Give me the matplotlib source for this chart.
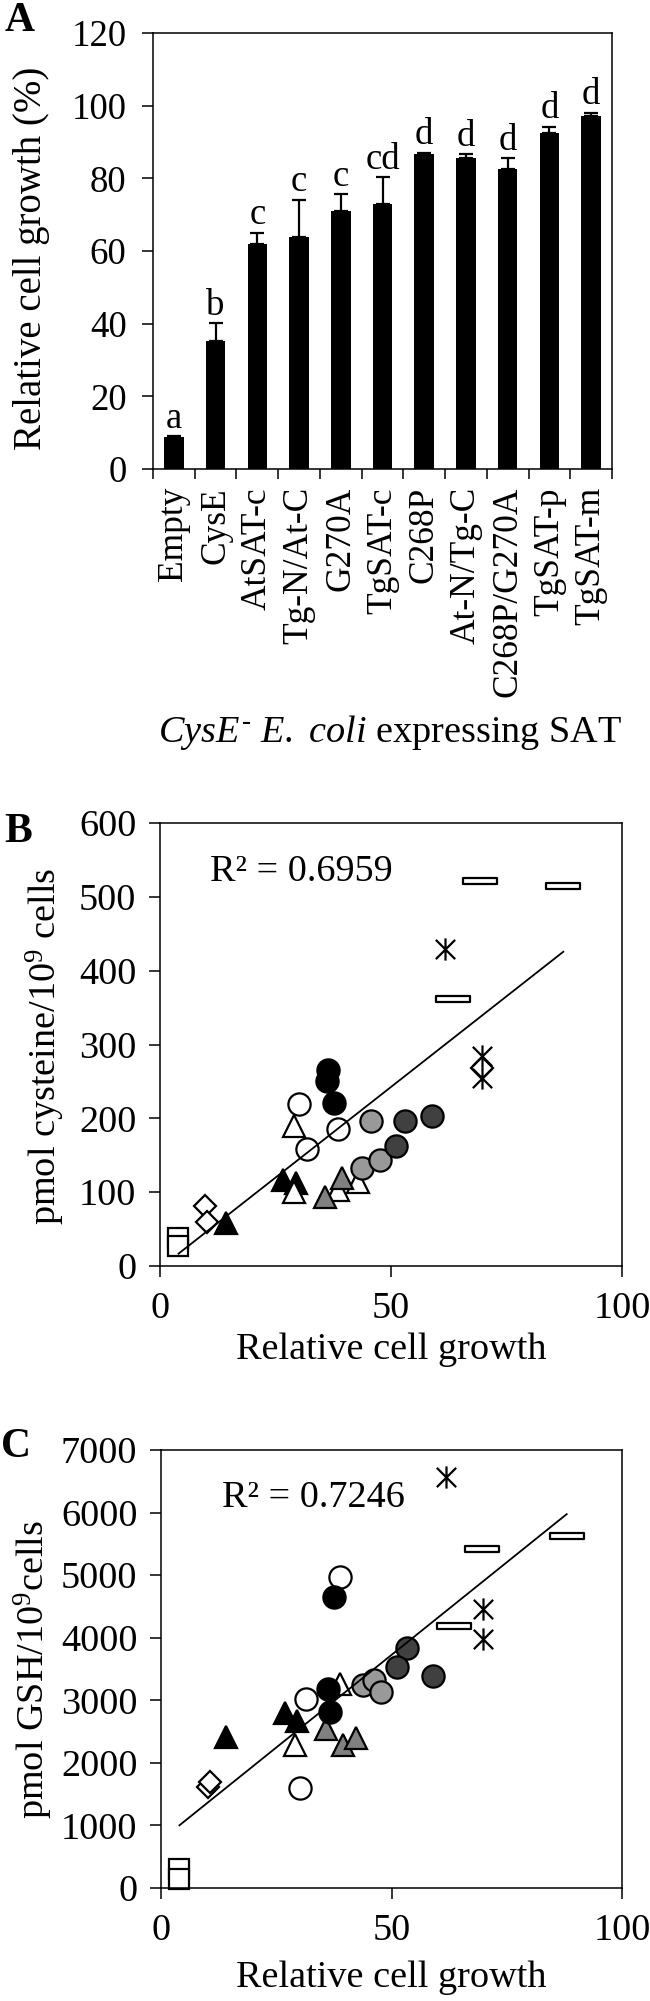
import numpy as np
import matplotlib
matplotlib.use('Agg')
import matplotlib.pyplot as plt
from matplotlib.path import Path

plt.rcParams['font.family'] = ['Liberation Serif', 'DejaVu Serif']
plt.rcParams['mathtext.fontset'] = 'custom'
plt.rcParams['mathtext.rm'] = 'Liberation Serif'
plt.rcParams['mathtext.it'] = 'Liberation Serif:italic'
plt.rcParams['axes.linewidth'] = 1.1

# --- panel A: growth of CysE- E. coli expressing SAT variants ---
strains = ['Empty', 'CysE', 'AtSAT-c', 'Tg-N/At-C', 'G270A', 'TgSAT-c',
           'C268P', 'At-N/Tg-C', 'C268P/G270A', 'TgSAT-p', 'TgSAT-m']
growth = [8.8, 35.3, 62.0, 63.8, 71.1, 72.9, 86.8, 85.7, 82.5, 92.4, 97.1]
growth_err = [0.3, 4.9, 3.0, 10.3, 4.5, 7.4, 0.3, 1.0, 3.0, 1.8, 1.0]
letters = ['a', 'b', 'c', 'c', 'c', 'cd', 'd', 'd', 'd', 'd', 'd']

# --- panel B: cysteine vs relative growth ---
b_group = ['empty', 'empty',
           'cyse', 'cyse', 'cyse',
           'blk_tri', 'blk_tri', 'blk_tri',
           'open_tri', 'open_tri', 'open_tri', 'open_tri',
           'grey_tri', 'grey_tri',
           'open_circ', 'open_circ', 'open_circ',
           'blk_circ', 'blk_circ', 'blk_circ',
           'lt_circ', 'lt_circ', 'lt_circ',
           'dk_circ', 'dk_circ', 'dk_circ',
           'star', 'star', 'star',
           'rect', 'rect', 'rect']
b_growth = [4.0, 4.0,
            9.8, 10.1, 69.7,
            14.3, 26.6, 29.4,
            28.9, 29.0, 38.6, 42.8,
            35.8, 39.4,
            30.0, 31.8, 38.5,
            36.4, 36.1, 37.6,
            45.6, 43.7, 47.6,
            53.1, 51.0, 58.8,
            61.7, 69.7, 69.7,
            69.3, 87.3, 63.4]
b_cysteine = [38, 27,
              81, 60, 268,
              58, 116, 112,
              100, 190, 103, 114,
              94, 119,
              220, 159, 185,
              265, 250, 221,
              196, 133, 144,
              196, 162, 203,
              430, 284, 254,
              521, 515, 361]
b_fit = (4.91, -3.0)   # slope, intercept of trendline
b_r2 = 'R² = 0.6959'

# --- panel C: GSH vs relative growth ---
c_group = ['empty', 'empty',
           'cyse', 'cyse',
           'blk_tri', 'blk_tri', 'blk_tri',
           'open_tri', 'open_tri',
           'grey_tri', 'grey_tri', 'grey_tri',
           'open_circ', 'open_circ', 'open_circ',
           'blk_circ', 'blk_circ', 'blk_circ',
           'lt_circ', 'lt_circ', 'lt_circ',
           'dk_circ', 'dk_circ', 'dk_circ',
           'star', 'star', 'star',
           'rect', 'rect', 'rect']
c_growth = [4.0, 4.0,
            10.3, 10.7,
            14.2, 26.9, 29.4,
            29.1, 38.8,
            35.8, 39.4, 42.4,
            30.2, 31.4, 38.8,
            37.6, 36.3, 36.6,
            43.8, 46.2, 47.8,
            53.3, 51.1, 59.0,
            61.8, 69.9, 69.8,
            69.6, 88.0, 63.6]
c_gsh = [300, 150,
         1610, 1690,
         2420, 2800, 2670,
         2280, 3265,
         2540, 2290, 2390,
         1600, 3020, 4965,
         4645, 3185, 2810,
         3240, 3320, 3130,
         3840, 3535, 3395,
         6565, 4455, 3985,
         5410, 5630, 4180]
c_fit = (59.2, 765.0)
c_r2 = 'R² = 0.7246'

group_order = ['empty', 'cyse', 'blk_tri', 'open_tri', 'grey_tri', 'open_circ',
               'blk_circ', 'lt_circ', 'dk_circ', 'star', 'rect']

star_marker = Path([(-1, -1), (1, 1), (-1, 1), (1, -1), (0, -1.15), (0, 1.15)],
                   [Path.MOVETO, Path.LINETO, Path.MOVETO, Path.LINETO, Path.MOVETO, Path.LINETO])
rect_marker = Path([(-1, -0.18), (1, -0.18), (1, 0.18), (-1, 0.18), (-1, -0.18)],
                   [Path.MOVETO, Path.LINETO, Path.LINETO, Path.LINETO, Path.CLOSEPOLY])

styles = {
    'empty': dict(marker='s', ms=15, mfc='white'),
    'cyse': dict(marker='D', ms=11, mfc='white'),
    'blk_tri': dict(marker='^', ms=16, mfc='black'),
    'open_tri': dict(marker='^', ms=16, mfc='white'),
    'grey_tri': dict(marker='^', ms=16, mfc='#808080'),
    'open_circ': dict(marker='o', ms=16, mfc='white'),
    'blk_circ': dict(marker='o', ms=16, mfc='black'),
    'lt_circ': dict(marker='o', ms=16, mfc='#999999'),
    'dk_circ': dict(marker='o', ms=16, mfc='#404040'),
    'star': dict(marker=star_marker, ms=16, mfc='none'),
    'rect': dict(marker=rect_marker, ms=24, mfc='white'),
}

W, H = 650, 2001
fig = plt.figure(figsize=(W / 100, H / 100), dpi=100)


def px_axes(left, top, right, bottom):
    return fig.add_axes([left / W, 1 - bottom / H, (right - left) / W, (bottom - top) / H])


def style_ticks(ax, size):
    ax.tick_params(axis='both', which='major', direction='out', length=8, width=1.1,
                   labelsize=size, pad=9)


# ---------- A ----------
ax = px_axes(153, 33, 612, 469)
x = np.arange(len(strains))
ax.bar(x, growth, width=0.47, color='black')
ax.errorbar(x, growth, yerr=[np.zeros(len(x)), growth_err], fmt='none',
            ecolor='black', elinewidth=1.6, capsize=5, capthick=1.6)
for xi, g, e, s in zip(x, growth, growth_err, letters):
    ax.text(xi, g + e + 2.3, s, ha='center', va='baseline', fontsize=26.5)
ax.set_xlim(-0.5, len(strains) - 0.5)
ax.set_ylim(0, 120)
ax.set_yticks(np.arange(0, 121, 20))
style_ticks(ax, 26.5)
ax.tick_params(axis='y', pad=11)
ax.set_xticks(np.arange(-0.5, len(strains), 1))
ax.tick_params(axis='x', which='major', labelbottom=False, length=7.5)
ax.set_xticks(x, minor=True)
ax.set_xticklabels(strains, minor=True, rotation=90, fontsize=25.5)
ax.tick_params(axis='x', which='minor', length=0, pad=13)
fig.text(32 / W, 1 - 258 / H, 'Relative cell growth (%)', rotation=90,
         ha='center', va='center', fontsize=28)
fig.text(390 / W, 1 - 733 / H,
         r'$\mathit{CysE}^{\text{-}}$ $\mathit{E.}$ $\mathit{coli}$ expressing SAT',
         ha='center', va='center', fontsize=27.5)
fig.text(20 / W, 1 - 21 / H, 'A', fontweight='bold', fontsize=30, ha='center', va='center')


def scatter_panel(ax, gx, gy, groups, fit, r2, r2_xy):
    for name in group_order:
        xs = [a for a, g in zip(gx, groups) if g == name]
        ys = [b for b, g in zip(gy, groups) if g == name]
        st = styles[name]
        ax.plot(xs, ys, linestyle='none', marker=st['marker'], markersize=st['ms'],
                markerfacecolor=st['mfc'], markeredgecolor='black', markeredgewidth=1.6,
                clip_on=False)
    xfit = np.array([min(gx), max(gx)])
    ax.plot(xfit, fit[0] * xfit + fit[1], color='black', linewidth=1.3, zorder=5)
    ax.text(r2_xy[0], r2_xy[1], r2, transform=ax.transAxes, fontsize=27.5,
            ha='left', va='center')
    ax.set_xlim(0, 100)
    ax.set_xticks([0, 50, 100])
    style_ticks(ax, 27.5)
    ax.tick_params(axis='x', pad=10)


# ---------- B ----------
ax = px_axes(160, 823, 622, 1266)
scatter_panel(ax, b_growth, b_cysteine, b_group, b_fit, b_r2,
              ((210 - 160) / 462, 1 - (872 - 823) / 443))
ax.set_ylim(0, 600)
ax.set_yticks(np.arange(0, 601, 100))
fig.text(45 / W, 1 - 1046 / H, 'pmol cysteine/10$^{9}$ cells', rotation=90,
         ha='center', va='center', fontsize=27.5)
fig.text(391 / W, 1 - 1350 / H, 'Relative cell growth', ha='center', va='center', fontsize=27.5)
fig.text(18 / W, 1 - 832 / H, 'B', fontweight='bold', fontsize=30, ha='center', va='center')

# ---------- C ----------
ax = px_axes(161, 1450, 622, 1888)
scatter_panel(ax, c_growth, c_gsh, c_group, c_fit, c_r2,
              ((222 - 161) / 461, 1 - (1498 - 1450) / 438))
ax.set_ylim(0, 7000)
ax.set_yticks(np.arange(0, 7001, 1000))
fig.text(33 / W, 1 - 1670 / H, 'pmol GSH/10$^{9}$cells', rotation=90,
         ha='center', va='center', fontsize=27.5)
fig.text(391 / W, 1 - 1978 / H, 'Relative cell growth', ha='center', va='center', fontsize=27.5)
fig.text(16 / W, 1 - 1447 / H, 'C', fontweight='bold', fontsize=30, ha='center', va='center')

fig.savefig('out.png', dpi=100)
